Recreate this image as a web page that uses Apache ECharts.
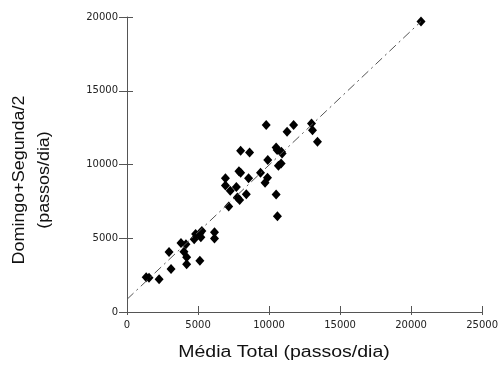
<!DOCTYPE html>
<html>
<head>
<meta charset="utf-8">
<script src="https://cdn.jsdelivr.net/npm/echarts@6/dist/echarts.min.js"></script>
<style>
  html, body { margin: 0; padding: 0; background: #fff; }
  #chart { width: 501px; height: 365px; }
</style>
</head>
<body>
<div id="chart"></div>
<script>
// média total (eixo x) e domingo+segunda/2 (eixo y), passos/dia
var mediaTotal = [
  20700, 1350, 1550, 2260, 3100, 2960, 3800, 4150, 4010, 4200,
  4200, 5130, 4730, 4830, 5130, 5270, 5200, 6160, 6160, 10590,
  9800, 11730, 11270, 12990, 13060, 13410, 8000, 8630, 10500, 10570,
  10870, 10920, 9910, 10850, 10660, 7880, 8000, 9400, 8560, 9890,
  9720, 6930, 6930, 7700, 7270, 8400, 7770, 7930, 10500, 7160
];
var domSeg = [
  19700, 2350, 2330, 2220, 2910, 4070, 4680, 4590, 4090, 3710,
  3240, 3470, 4930, 5280, 5330, 5490, 5060, 5400, 4990, 6500,
  12670, 12670, 12220, 12780, 12330, 11540, 10940, 10820, 11160, 10980,
  10860, 10750, 10300, 10070, 9910, 9550, 9440, 9440, 9060, 9100,
  8760, 9060, 8580, 8470, 8220, 7980, 7770, 7590, 7970, 7150
];
// reta de regressão (início e fim)
var retaX = [0, 20700];
var retaY = [860, 19700];
var xTicks = [0, 25000, 5000];   // min, max, intervalo
var yTicks = [0, 20000, 5000];

var pontos = mediaTotal.map(function (v, i) { return [v, domSeg[i]]; });
var reta = retaX.map(function (v, i) { return [v, retaY[i]]; });

var myChart = echarts.init(document.getElementById('chart'));
var corEixo = '#555';
var fonteTick = {
  fontFamily: 'DejaVu Sans', fontSize: 10, color: '#222',
  formatter: function (v) { return String(v); }
};

myChart.setOption({
  animation: false,
  backgroundColor: '#fff',
  grid: { left: 127, right: 17, top: 17, bottom: 53 },
  xAxis: [{
    type: 'value', min: xTicks[0], max: xTicks[1], interval: xTicks[2],
    axisLine: { lineStyle: { color: corEixo, width: 1 } },
    axisTick: { show: true, length: 3, lineStyle: { color: corEixo } },
    axisLabel: Object.assign({ margin: 8 }, fonteTick),
    splitLine: { show: false }
  }, {
    type: 'value', position: 'bottom', min: xTicks[0], max: xTicks[1], interval: xTicks[2],
    axisLine: { show: false },
    axisTick: { show: true, inside: true, length: 6, lineStyle: { color: corEixo } },
    axisLabel: { show: false },
    splitLine: { show: false }
  }],
  yAxis: [{
    type: 'value', min: yTicks[0], max: yTicks[1], interval: yTicks[2],
    axisLine: { show: true, lineStyle: { color: corEixo, width: 1 } },
    axisTick: { show: true, length: 8, lineStyle: { color: corEixo } },
    axisLabel: Object.assign({ margin: 9 }, fonteTick),
    splitLine: { show: false }
  }, {
    type: 'value', position: 'left', min: yTicks[0], max: yTicks[1], interval: yTicks[2],
    axisLine: { show: false },
    axisTick: { show: true, inside: true, length: 6, lineStyle: { color: corEixo } },
    axisLabel: { show: false },
    splitLine: { show: false }
  }],
  graphic: [{
    type: 'text', x: 284, y: 353, scaleX: 1.22,
    style: {
      text: 'Média Total (passos/dia)', fontFamily: 'Liberation Sans', fontSize: 16,
      fill: '#111', align: 'center', verticalAlign: 'middle'
    }
  }, {
    type: 'text', x: 32, y: 180, rotation: Math.PI / 2, scaleX: 1.12,
    style: {
      text: 'Domingo+Segunda/2\n(passos/dia)', fontFamily: 'Liberation Sans', fontSize: 16,
      lineHeight: 25, fill: '#111', align: 'center', verticalAlign: 'middle'
    }
  }],
  series: [{
    type: 'line',
    data: reta,
    symbol: 'none',
    silent: true,
    lineStyle: { color: '#555', width: 1, type: [9, 4, 2, 4] }
  }, {
    type: 'scatter',
    data: pontos,
    symbol: 'diamond',
    symbolSize: [9, 10],
    itemStyle: { color: '#000', opacity: 1 }
  }]
});
</script>
</body>
</html>
